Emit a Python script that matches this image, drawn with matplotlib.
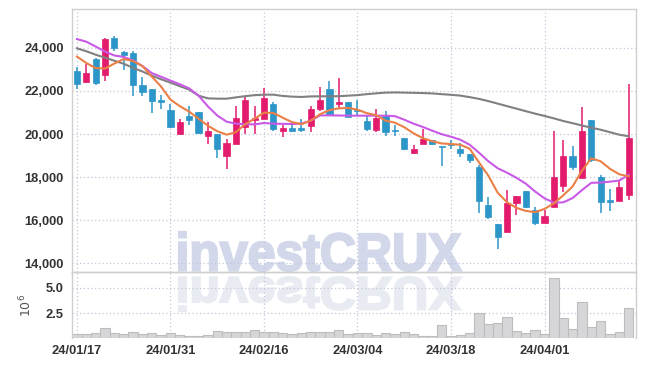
import matplotlib
matplotlib.use("Agg")
import matplotlib.pyplot as plt
from matplotlib.textpath import TextPath
from matplotlib.patches import PathPatch
from matplotlib.font_manager import FontProperties
from matplotlib.transforms import Affine2D

# ---- data ----
tick_idx = [0, 10, 20, 30, 40, 50]
tick_labels = ["24/01/17", "24/01/31", "24/02/16", "24/03/04", "24/03/18", "24/04/01"]

opens = [22910, 22400, 23500, 22730, 24470, 23810, 23780, 22290, 22100, 21600,
         21130, 20000, 20820, 21000, 19890, 20010, 18960, 19550, 20310, 20670,
         20710, 21400, 20120, 20290, 20260, 20350, 21180, 22110, 21410, 21500,
         21100, 20620, 20200, 20900, 20200, 19830, 19100, 19520, 19720, 19420,
         19550, 19320, 19085, 18470, 16710, 15830, 15440, 16790, 17365, 16480,
         15890, 16635, 17600, 18990, 17980, 20630, 18030, 16900, 16910, 17180]
highs = [23100, 23270, 23550, 24450, 24570, 23840, 23830, 22650, 22110, 21800,
         21410, 20700, 21320, 21000, 20540, 20010, 19770, 21320, 21700, 21320,
         22140, 21500, 20430, 20540, 20700, 21320, 22190, 22480, 22600, 21500,
         21600, 20820, 21180, 21080, 20430, 19830, 19470, 20250, 19720, 19420,
         19700, 19580, 19085, 18570, 17070, 15830, 17410, 17130, 17365, 16635,
         16480, 20120, 19700, 19460, 21260, 20630, 18110, 17440, 17880, 22340]
lows = [22090, 22350, 22280, 22480, 23840, 22990, 21780, 21780, 20980, 21180,
        20280, 20000, 20430, 20000, 19540, 18910, 18380, 19550, 20000, 20000,
        20710, 20150, 19840, 20080, 20080, 20080, 21050, 20890, 21210, 20770,
        20900, 20120, 20080, 19910, 19920, 19240, 19085, 19520, 19470, 18530,
        19320, 18930, 18650, 16330, 16050, 14650, 15440, 16250, 16560, 15780,
        15890, 16635, 17330, 18340, 17980, 18700, 16330, 16450, 16910, 16950]
closes = [22340, 22840, 22350, 24430, 23980, 23660, 22260, 21950, 21550, 21470,
          20310, 20560, 20630, 20050, 20150, 19320, 19580, 20760, 21600, 20760,
          21680, 20230, 20290, 20120, 20170, 21180, 21600, 20890, 21500, 20770,
          21050, 20250, 20760, 20090, 20150, 19320, 19300, 19780, 19550, 19390,
          19490, 19100, 18810, 16910, 16140, 15210, 16790, 17130, 16635, 15890,
          16200, 18000, 18990, 18470, 20120, 18810, 16870, 16870, 17540, 19800]
volumes = [0.45, 0.38, 0.47, 0.97, 0.50, 0.38, 0.58, 0.43, 0.47, 0.30,
           0.47, 0.28, 0.25, 0.25, 0.30, 0.75, 0.63, 0.65, 0.63, 0.77,
           0.63, 0.63, 0.47, 0.37, 0.47, 0.63, 0.60, 0.60, 0.77, 0.45,
           0.47, 0.47, 0.33, 0.47, 0.40, 0.57, 0.40, 0.23, 0.20, 1.30,
           0.20, 0.30, 0.50, 2.50, 1.40, 1.50, 2.10, 0.67, 0.50, 0.77,
           0.40, 6.00, 2.00, 0.90, 3.60, 1.10, 1.70, 0.40, 0.60, 3.00]
ma_fast = [23595, 23293, 23060, 23037, 23270, 23480, 23386, 23154, 22665, 22200,
           21596, 21294, 21038, 20712, 20387, 20131, 19970, 20085, 20457, 20712,
           20991, 20977, 20760, 20550, 20457, 20620, 20921, 21108, 21190, 21210,
           21130, 20968, 20875, 20620, 20527, 20317, 20030, 19806, 19666, 19564,
           19536, 19503, 19317, 18680, 18062, 17271, 16830, 16574, 16434, 16374,
           16527, 16783, 17155, 17564, 18295, 18876, 18736, 18387, 18132, 18039]
ma_mid = [24405, 24284, 24060, 23828, 23642, 23577, 23410, 23154, 22828, 22656,
          22480, 22307, 22117, 21782, 21284, 20860, 20573, 20480, 20457, 20447,
          20512, 20480, 20471, 20466, 20480, 20620, 20866, 20866, 20860, 20852,
          20852, 20852, 20852, 20852, 20830, 20666, 20480, 20326, 20154, 19992,
          19875, 19736, 19503, 19131, 18736, 18411, 18204, 17970, 17697, 17332,
          17016, 16820, 16830, 17030, 17397, 17736, 17750, 17790, 17845, 18110]
ma_slow = [23977, 23840, 23680, 23540, 23400, 23260, 23070, 22900, 22710, 22540,
           22386, 22220, 22060, 21780, 21655, 21640, 21640, 21700, 21757, 21803,
           21826, 21826, 21766, 21735, 21720, 21745, 21750, 21750, 21755, 21780,
           21805, 21850, 21888, 21920, 21930, 21920, 21912, 21900, 21884, 21850,
           21820, 21782, 21712, 21630, 21526, 21410, 21294, 21178, 21060, 20945,
           20838, 20727, 20605, 20503, 20396, 20294, 20200, 20085, 19968, 19898]

UP = "#e31b6d"
DOWN = "#2c96c8"
GRID = "#c3c7dc"
SPINE = "#cfcfcf"

W, H = 645, 366
fig = plt.figure(figsize=(W / 100, H / 100), dpi=100)
fig.patch.set_facecolor("white")

ax = fig.add_axes([72 / W, 1 - 272 / H, (635.5 - 72) / W, (272 - 9) / H])
axv = fig.add_axes([72 / W, 1 - 338 / H, (635.5 - 72) / W, (338 - 272) / H], sharex=ax)

# watermark with its reflection
prop = FontProperties(family="Liberation Sans", weight="bold")
tp = TextPath((0, 0), "investCRUX", size=100, prop=prop)
ext = tp.get_extents()
sx = 282 / ext.width
base = H - 272
t1 = Affine2D().translate(-ext.x0, -ext.y0).scale(sx, 39 / ext.height).translate(179, base + 1)
t2 = Affine2D().translate(-ext.x0, -ext.y0).scale(sx, -34 / ext.height).translate(179, base - 5)
fig.add_artist(PathPatch(tp, transform=t1, facecolor="#d2d7ea", edgecolor="#d2d7ea",
                         linewidth=1.6, zorder=-5))
fig.add_artist(PathPatch(tp, transform=t2, facecolor="#e9ebf3", edgecolor="#e9ebf3",
                         linewidth=1.6, zorder=-5))

x = list(range(len(closes)))

for a in (ax, axv):
    a.set_facecolor("none")
    for s in a.spines.values():
        s.set_color(SPINE)
        s.set_linewidth(1)
    a.grid(True, color=GRID, linestyle=(0, (1, 2)), linewidth=0.9)
    a.tick_params(length=0, labelsize=9.3)
axv.spines["bottom"].set_visible(False)

# candles
for i in x:
    o, h, l, c = opens[i], highs[i], lows[i], closes[i]
    col = UP if c >= o else DOWN
    ax.vlines(i, l, h, color=col, linewidth=1.1, zorder=2)
    body = max(abs(c - o), 60)
    ax.bar(i, body, bottom=min(o, c), width=0.66, color=col, edgecolor=col,
           linewidth=0.5, zorder=3)

ax.plot(x, ma_slow, color="#808080", linewidth=1.5, zorder=4)
ax.plot(x, ma_mid, color="#c85ae6", linewidth=1.5, zorder=4)
ax.plot(x, ma_fast, color="#eb8046", linewidth=1.5, zorder=4)

ax.set_xlim(-0.53, 59.73)
ax.set_ylim(13600, 25800)
ax.set_yticks([14000, 16000, 18000, 20000, 22000, 24000])
ax.set_yticklabels(["14,000", "16,000", "18,000", "20,000", "22,000", "24,000"])
ax.tick_params(axis="y", pad=6)
ax.tick_params(axis="x", labelbottom=False)

axv.bar(x, volumes, width=1.0, color="#d6d6d9", edgecolor="#bdbdbd", linewidth=0.8, zorder=2)
axv.set_ylim(0, 6.6)
axv.set_yticks([2.5, 5.0])
axv.set_yticklabels(["2.5", "5.0"])
axv.set_xticks(tick_idx)
axv.set_xticklabels(tick_labels)
axv.tick_params(axis="y", pad=6)
axv.tick_params(axis="x", pad=5)
axv.set_ylabel(r"$10^6$", fontsize=9, color="#555555", labelpad=8)

for lab in ax.get_yticklabels() + axv.get_yticklabels() + axv.get_xticklabels():
    lab.set_fontproperties(FontProperties(family="Liberation Sans", weight="bold", size=9.3))
    lab.set_color("#333333")

fig.savefig("out.png", dpi=100)
